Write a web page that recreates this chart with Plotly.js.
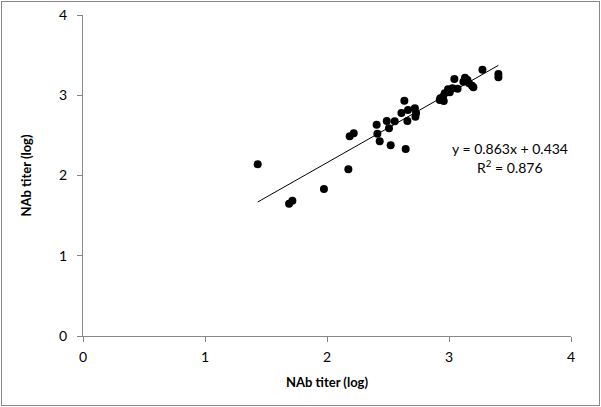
<!DOCTYPE html>
<html>
<head>
<meta charset="utf-8">
<script src="https://cdn.plot.ly/plotly-3.0.1.min.js"></script>
<style>
html,body{margin:0;padding:0;background:#fff;}
#wrap{position:relative;width:601px;height:407px;}
#chart{width:601px;height:407px;}
#frame{position:absolute;left:1px;top:1px;width:597px;height:403px;border:1px solid #888;pointer-events:none;}
</style>
</head>
<body>
<div id="wrap"><div id="chart"></div><div id="frame"></div></div>
<script>
var xValues = [1.432, 1.689, 1.716, 1.975, 2.175, 2.186, 2.219, 2.407, 2.413, 2.432,
  2.490, 2.508, 2.522, 2.555, 2.610, 2.634, 2.645, 2.659, 2.664, 2.720,
  2.725, 2.730, 2.924, 2.929, 2.951, 2.957, 2.965, 2.992, 3.006, 3.028,
  3.044, 3.070, 3.118, 3.131, 3.151, 3.164, 3.189, 3.200, 3.274, 3.405, 3.405];
var yValues = [2.140, 1.649, 1.686, 1.832, 2.077, 2.490, 2.526, 2.633, 2.520, 2.426,
  2.680, 2.588, 2.376, 2.675, 2.780, 2.932, 2.330, 2.680, 2.816, 2.837,
  2.733, 2.780, 2.941, 2.962, 2.982, 2.928, 3.024, 3.074, 3.037, 3.087,
  3.202, 3.080, 3.169, 3.219, 3.190, 3.149, 3.119, 3.099, 3.319, 3.265, 3.224];
var slope = 0.863;
var intercept = 0.434;
var r2 = 0.876;
var tickVals = [0, 1, 2, 3, 4];
var tickText = ['0', '1', '2', '3', '4'];

var xmin = Math.min.apply(null, xValues);
var xmax = Math.max.apply(null, xValues);
var fitX = [xmin, xmax];
var fitY = fitX.map(function(v){ return slope * v + intercept; });

var font = 'Lato, "Open Sans", "Liberation Sans", sans-serif';

var data = [
  {x: xValues, y: yValues, type: 'scatter', mode: 'markers',
   marker: {color: '#000', size: 8}, hoverinfo: 'x+y'},
  {x: fitX, y: fitY, type: 'scatter', mode: 'lines',
   line: {color: '#000', width: 1}, hoverinfo: 'skip'}
];

var axisCommon = {
  range: [0, 4], tickvals: tickVals, ticktext: tickText,
  showgrid: false, zeroline: false, showline: true,
  linecolor: '#868686', linewidth: 1,
  ticks: 'outside', ticklen: 5, tickcolor: '#868686', tickwidth: 1,
  tickfont: {family: font, size: 14, color: '#000'}
};

var layout = {
  width: 601, height: 407,
  margin: {l: 83, r: 30, t: 15, b: 71},
  paper_bgcolor: '#fff', plot_bgcolor: '#fff',
  showlegend: false,
  font: {family: font, color: '#000'},
  xaxis: Object.assign({}, axisCommon, {
    ticklabelstandoff: 3,
    title: {text: '<b>NAb titer (log)</b>', font: {family: font, size: 13, color: '#000'}, standoff: 14}
  }),
  yaxis: Object.assign({}, axisCommon, {
    ticklabelstandoff: 7,
    title: {text: '<b>NAb titer (log)</b>', font: {family: font, size: 13, color: '#000'}, standoff: 24}
  }),
  annotations: [
    {xref: 'paper', yref: 'paper', x: 0.875, y: 0.584, xanchor: 'center', yanchor: 'middle',
     text: 'y = ' + slope.toFixed(3) + 'x + ' + intercept.toFixed(3), showarrow: false,
     font: {family: font, size: 14, color: '#000'}},
    {xref: 'paper', yref: 'paper', x: 0.876, y: 0.527, xanchor: 'center', yanchor: 'middle',
     text: 'R<sup>2</sup> = ' + r2.toFixed(3), showarrow: false,
     font: {family: font, size: 14, color: '#000'}}
  ]
};

Plotly.newPlot('chart', data, layout, {displayModeBar: false, staticPlot: true});
</script>
</body>
</html>
